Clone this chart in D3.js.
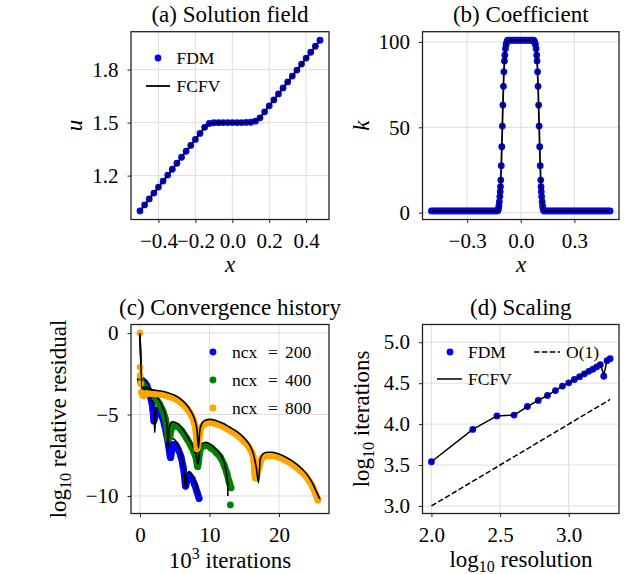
<!DOCTYPE html>
<html><head><meta charset="utf-8">
<script src="https://cdn.jsdelivr.net/npm/d3@7"></script>
<style>body{margin:0;background:#fff} svg text{font-family:'Liberation Serif','Times New Roman',serif;}</style>
</head><body>
<svg id="chart" width="624" height="574"></svg>
<script>
// ---------------- DATA ----------------
// (a) Solution field
const solX = [-0.5,-0.475,-0.45,-0.425,-0.4,-0.375,-0.35,-0.325,-0.3,-0.275,-0.25,-0.225,-0.2,-0.175,-0.15,-0.125,-0.1,-0.075,-0.05,-0.025,0,0.025,0.05,0.075,0.1,0.125,0.15,0.175,0.2,0.225,0.25,0.275,0.3,0.325,0.35,0.375,0.4,0.425,0.45,0.475];
const solFDM = [1.0,1.034,1.068,1.101,1.135,1.169,1.203,1.236,1.27,1.304,1.338,1.371,1.405,1.439,1.473,1.495,1.499,1.4995,1.5,1.5,1.5,1.5,1.5,1.501,1.502,1.508,1.527,1.561,1.595,1.628,1.662,1.696,1.73,1.763,1.797,1.831,1.865,1.898,1.932,1.966];
const solFCFV = [1.0,1.034,1.068,1.101,1.135,1.169,1.203,1.236,1.27,1.304,1.338,1.371,1.405,1.439,1.473,1.495,1.499,1.4995,1.5,1.5,1.5,1.5,1.5,1.501,1.502,1.508,1.527,1.561,1.595,1.628,1.662,1.696,1.73,1.763,1.797,1.831,1.865,1.898,1.932,1.966];

// (b) Coefficient
const coefX = [-0.5,-0.49,-0.48,-0.47,-0.46,-0.45,-0.44,-0.43,-0.42,-0.41,-0.4,-0.39,-0.38,-0.37,-0.36,-0.35,-0.34,-0.33,-0.32,-0.31,-0.3,-0.29,-0.28,-0.27,-0.26,-0.25,-0.24,-0.23,-0.22,-0.21,-0.2,-0.19,-0.18,-0.17,-0.16,-0.15,-0.14,-0.13,
 -0.127,-0.1245,-0.122,-0.1197,-0.117,-0.115,-0.1135,-0.1118,-0.109,-0.106,-0.103,-0.1,-0.097,-0.0943,-0.0914,-0.0893,-0.0858,-0.082,-0.079,-0.076,-0.073,
 -0.07,-0.06,-0.05,-0.04,-0.03,-0.02,-0.01,0,0.01,0.02,0.03,0.04,0.05,0.06,0.07,
 0.073,0.076,0.079,0.082,0.0858,0.0893,0.0914,0.0943,0.097,0.1,0.103,0.106,0.109,0.1118,0.1135,0.115,0.117,0.1197,0.122,0.1245,0.127,
 0.13,0.14,0.15,0.16,0.17,0.18,0.19,0.2,0.21,0.22,0.23,0.24,0.25,0.26,0.27,0.28,0.29,0.3,0.31,0.32,0.33,0.34,0.35,0.36,0.37,0.38,0.39,0.4,0.41,0.42,0.43,0.44,0.45,0.46,0.47,0.48,0.49,0.5];
const coefK = [1,1,1,1,1,1,1,1,1,1,1,1,1,1,1,1,1,1,1,1,1,1,1,1,1,1,1,1,1,1,1,1,1,1,1,1,1,1,
 1.5,2.5,4.0,6.4,9.4,12.3,15.2,19.1,27.5,38.6,50.7,63,74,82.5,88.9,92.2,96,98.5,99.4,100.5,100.9,
 101,101,101,101,101,101,101,101,101,101,101,101,101,101,101,
 100.9,100.5,99.4,98.5,96,92.2,88.9,82.5,74,63,50.7,38.6,27.5,19.1,15.2,12.3,9.4,6.4,4.0,2.5,1.5,
 1,1,1,1,1,1,1,1,1,1,1,1,1,1,1,1,1,1,1,1,1,1,1,1,1,1,1,1,1,1,1,1,1,1,1,1,1,1];

// (c) Convergence history (x in 10^3 iterations, y = log10 relative residual)
const conv200LineX = [0,0.3,0.8,1.2,1.6,1.9,2.05,2.12,2.25,2.5,2.8,3.1,3.4,3.7,3.9,4.0,4.2,4.6,5.1,5.6,6.0,6.3,6.6,6.8,7.1,7.5,7.9,8.2,8.45];
const conv200LineY = [0,-2.85,-3.0,-3.3,-3.85,-4.5,-5.1,-6.1,-5.0,-4.55,-4.5,-4.75,-5.2,-5.8,-6.4,-7.1,-6.4,-6.45,-6.6,-7.0,-7.6,-8.3,-9.55,-8.7,-8.5,-8.7,-9.1,-9.5,-10.0];
const conv200DotX = [0.05,0.3,0.7,1.0,1.3,1.6,1.85,2.0,2.15,2.35,2.6,2.9,3.2,3.5,3.8,4.1,4.4,4.7,5.1,5.5,5.9,6.2,6.4,6.55,6.8,7.1,7.5,7.9,8.2,8.5];
const conv200DotY = [-2.85,-2.9,-3.05,-3.25,-3.6,-4.1,-4.7,-5.4,-5.15,-4.85,-4.75,-4.85,-5.15,-5.6,-6.2,-6.9,-7.65,-6.85,-6.85,-7.15,-7.6,-8.2,-8.8,-9.4,-9.0,-8.75,-8.95,-9.35,-9.75,-10.15];

const conv400LineX = [0,0.3,1.0,1.6,2.2,2.8,3.3,3.7,3.9,4.02,4.2,4.6,5.2,6.0,6.7,7.3,7.8,8.1,8.35,8.6,8.9,9.5,10.2,11.0,11.6,12.1,12.4,12.6,12.65];
const conv400LineY = [0,-3.35,-3.3,-3.45,-3.75,-4.15,-4.6,-5.15,-5.7,-7.0,-5.8,-5.45,-5.5,-5.8,-6.25,-6.7,-7.15,-7.55,-8.05,-7.1,-6.8,-6.7,-6.85,-7.15,-7.45,-7.95,-8.5,-9.2,-10.0];
const conv400DotX = [0.1,0.3,0.8,1.2,1.6,2.2,2.8,3.3,3.7,3.9,4.05,4.28,4.5,4.8,5.3,6.0,6.7,7.3,7.8,8.1,8.3,8.6,8.9,9.5,10.2,11.0,11.6,12.1,12.5,12.8,13.1];
const conv400DotY = [-2.95,-3.1,-3.35,-3.5,-3.65,-3.95,-4.35,-4.8,-5.35,-5.9,-6.5,-6.4,-5.9,-5.7,-5.72,-6.0,-6.45,-6.9,-7.35,-7.75,-8.2,-7.3,-7.0,-6.9,-7.05,-7.35,-7.65,-8.1,-8.6,-9.1,-9.5];
const conv400ExtraX = [13.0];
const conv400ExtraY = [-10.55];

const conv800LineX = [0,0.3,1.0,2.0,3.0,4.0,5.0,6.0,6.8,7.4,7.9,8.2,8.42,8.6,8.9,9.4,10.0,11.0,12.0,13.0,14.0,15.0,15.8,16.3,16.75,17.05,17.3,17.7,18.3,19.0,20.0,21.0,22.0,23.0,24.0,24.8,25.4,25.9];
const conv800LineY = [0,-3.42,-3.45,-3.5,-3.56,-3.66,-3.82,-4.1,-4.45,-4.85,-5.35,-5.95,-7.05,-6.0,-5.55,-5.35,-5.3,-5.38,-5.55,-5.8,-6.07,-6.45,-6.9,-7.4,-8.3,-9.2,-7.75,-7.42,-7.32,-7.32,-7.42,-7.62,-7.88,-8.22,-8.66,-9.2,-9.75,-10.2];
const conv800DotX = [0.2,0.5,1.0,2.0,3.0,4.0,5.0,6.0,6.8,7.4,7.8,8.1,8.2,8.55,8.8,9.4,10.0,11.0,12.0,13.0,14.0,15.0,15.8,16.3,16.6,17.2,17.5,18.0,19.0,20.0,21.0,22.0,23.0,24.0,24.8,25.3,25.6];
const conv800DotY = [-3.63,-3.85,-3.72,-3.72,-3.77,-3.87,-4.02,-4.3,-4.65,-5.05,-5.5,-6.2,-7.1,-6.3,-5.8,-5.55,-5.5,-5.58,-5.75,-6.0,-6.27,-6.65,-7.1,-7.6,-8.9,-8.1,-7.7,-7.55,-7.52,-7.62,-7.82,-8.08,-8.42,-8.86,-9.4,-9.9,-10.25];
const conv800ExtraX = [0,0,0.03,0.08];
const conv800ExtraY = [0,-2.1,-2.6,-3.1];

const convLabels = ["200","400","800"];
const convColors = ["#0000ff","#008000","#ffa500"];

// (d) Scaling
const resLog = [2.0,2.301,2.477,2.602,2.699,2.778,2.845,2.903,2.954,3.0,3.041,3.079,3.114,3.146,3.176,3.204,3.23,3.255,3.279,3.301];
const itFDM  = [3.54,3.935,4.10,4.11,4.215,4.29,4.35,4.41,4.465,4.505,4.545,4.58,4.615,4.645,4.67,4.70,4.725,4.585,4.775,4.80];
const itFCFV = [3.54,3.935,4.10,4.11,4.215,4.29,4.35,4.41,4.465,4.505,4.545,4.585,4.62,4.65,4.68,4.71,4.74,4.60,4.775,4.80];
const refX = [2.0,3.301];
const refY = [3.0,4.301];

// ticks
const aXTicks=[-0.4,-0.2,0,0.2,0.4], aYTicks=[1.2,1.5,1.8];
const bXTicks=[-0.3,0,0.3], bYTicks=[0,50,100];
const cXTicks=[0,10,20], cYTicks=[-10,-5,0];
const dXTicks=[2.0,2.5,3.0], dYTicks=[3.0,3.5,4.0,4.5,5.0];

// ---------------- DRAWING ----------------
const FONT = "'Liberation Serif','Times New Roman',serif";
const GRID = "#dedede", INK = "#222";
const R = 3.4;
const svg = d3.select("#chart").attr("font-family", FONT);
const defs = svg.append("defs");

function pad(vals){ const e=d3.extent(vals); const p=(e[1]-e[0])*0.05; return [e[0]-p,e[1]+p]; }
const zip = (xs,ys)=>xs.map((v,i)=>[v,ys[i]]);

function panel(o){
  const x = d3.scaleLinear().domain(o.xDom).range([o.x0,o.x1]);
  const y = d3.scaleLinear().domain(o.yDom).range([o.y1,o.y0]);
  const g = svg.append("g");
  g.selectAll(null).data(o.xTicks).join("line")
    .attr("x1",d=>x(d)).attr("x2",d=>x(d)).attr("y1",o.y0).attr("y2",o.y1)
    .attr("stroke",GRID).attr("stroke-width",1);
  g.selectAll(null).data(o.yTicks).join("line")
    .attr("y1",d=>y(d)).attr("y2",d=>y(d)).attr("x1",o.x0).attr("x2",o.x1)
    .attr("stroke",GRID).attr("stroke-width",1);
  const ax = g.append("g").attr("transform",`translate(0,${o.y1})`)
    .call(d3.axisBottom(x).tickValues(o.xTicks).tickFormat(o.xFmt).tickSize(3.5).tickPadding(10));
  const ay = g.append("g").attr("transform",`translate(${o.x0},0)`)
    .call(d3.axisLeft(y).tickValues(o.yTicks).tickFormat(o.yFmt).tickSize(3.5).tickPadding(9));
  [ax,ay].forEach(a=>{
    a.select(".domain").remove();
    a.attr("color",INK).attr("font-family",FONT);
    a.selectAll("line").attr("stroke-width",1);
    a.selectAll("text").attr("font-size",21).style("font-family",FONT).attr("fill","#000");
  });
  const cid = "clip_"+o.name;
  defs.append("clipPath").attr("id",cid).append("rect")
    .attr("x",o.x0).attr("y",o.y0).attr("width",o.x1-o.x0).attr("height",o.y1-o.y0);
  const data = svg.append("g").attr("clip-path",`url(#${cid})`);
  o.draw(data,x,y);
  svg.append("rect").attr("x",o.x0).attr("y",o.y0).attr("width",o.x1-o.x0).attr("height",o.y1-o.y0)
    .attr("fill","none").attr("stroke",INK).attr("stroke-width",1.3);
  svg.append("text").attr("x",(o.x0+o.x1)/2).attr("y",o.y0-9.5).attr("text-anchor","middle")
    .attr("font-size",23).text(o.title);
  return {x,y};
}

function dots(g,x,y,xs,ys,color){
  g.append("g").selectAll("circle").data(zip(xs,ys)).join("circle")
    .attr("cx",d=>x(d[0])).attr("cy",d=>y(d[1])).attr("r",R).attr("fill",color);
}
function line(g,x,y,xs,ys,opts){
  const gen = d3.line().x(d=>x(d[0])).y(d=>y(d[1])).curve(opts.curve||d3.curveLinear);
  g.append("path").attr("d",gen(zip(xs,ys))).attr("fill","none")
    .attr("stroke",opts.color||"#000").attr("stroke-width",opts.width||1.5)
    .attr("stroke-linejoin","round").attr("stroke-linecap",opts.cap||"butt")
    .attr("stroke-dasharray",opts.dash||null);
}

const f1 = d3.format(".1f"), f0 = d3.format("d");

// (a)
panel({name:"a", x0:131, x1:329, y0:31.7, y1:219.5,
  xDom:pad(solX), yDom:pad(solFDM.concat(solFCFV)),
  xTicks:aXTicks, yTicks:aYTicks, xFmt:f1, yFmt:f1,
  title:"(a) Solution field",
  draw:(g,x,y)=>{
    dots(g,x,y,solX,solFDM,"#0000ff");
    line(g,x,y,solX,solFCFV,{width:1.8});
  }});

// (b)
panel({name:"b", x0:422.5, x1:619, y0:31.7, y1:219.5,
  xDom:pad(coefX), yDom:pad(coefK),
  xTicks:bXTicks, yTicks:bYTicks, xFmt:f1, yFmt:f0,
  title:"(b) Coefficient",
  draw:(g,x,y)=>{
    dots(g,x,y,coefX,coefK,"#0000ff");
    line(g,x,y,coefX,coefK,{width:1.8});
  }});

// (c)
const convSeries = [
  {dx:conv200DotX, dy:conv200DotY, lx:conv200LineX, ly:conv200LineY, ex:[], ey:[]},
  {dx:conv400DotX, dy:conv400DotY, lx:conv400LineX, ly:conv400LineY, ex:conv400ExtraX, ey:conv400ExtraY},
  {dx:conv800DotX, dy:conv800DotY, lx:conv800LineX, ly:conv800LineY, ex:conv800ExtraX, ey:conv800ExtraY}
];
const allCX = [], allCY = [];
convSeries.forEach(s=>{ allCX.push(...s.dx,...s.lx,...s.ex); allCY.push(...s.dy,...s.ly,...s.ey); });
panel({name:"c", x0:131, x1:329, y0:324.5, y1:513.5,
  xDom:pad(allCX), yDom:pad(allCY),
  xTicks:cXTicks, yTicks:cYTicks, xFmt:f0, yFmt:f0,
  title:"(c) Convergence history",
  draw:(g,x,y)=>{
    convSeries.forEach((s,i)=>{
      const c = convColors[i];
      line(g,x,y,s.dx,s.dy,{color:c,width:2*R,cap:"round",curve:d3.curveMonotoneX});
      dots(g,x,y,s.dx,s.dy,c);
      dots(g,x,y,s.ex,s.ey,c);
      line(g,x,y,s.lx,s.ly,{width:1.6,curve:d3.curveMonotoneX});
    });
  }});

// (d)
panel({name:"d", x0:422.5, x1:619, y0:324.5, y1:513.5,
  xDom:pad(resLog), yDom:[2.908,5.217],
  xTicks:dXTicks, yTicks:dYTicks, xFmt:f1, yFmt:f1,
  title:"(d) Scaling",
  draw:(g,x,y)=>{
    dots(g,x,y,resLog,itFDM,"#0000ff");
    line(g,x,y,resLog,itFCFV,{width:1.5});
    line(g,x,y,refX,refY,{width:1.5,dash:"5.5,2.4"});
  }});

// ---------------- AXIS LABELS ----------------
function label(x,y,rot,parts){
  const t = svg.append("text").attr("text-anchor","middle").attr("font-size",23)
    .attr("transform",`translate(${x},${y}) rotate(${rot})`);
  parts.forEach(p=>{
    const ts = t.append("tspan").text(p.t);
    if(p.it) ts.attr("font-style","italic");
    if(p.fs) ts.attr("font-size",p.fs);
    if(p.dy) ts.attr("dy",p.dy);
  });
  return t;
}
label(230,272,0,[{t:"x",it:true}]);
label(82,125.6,-90,[{t:"u",it:true}]);
label(521,272,0,[{t:"x",it:true}]);
label(368.5,125.6,-90,[{t:"k",it:true}]);
label(230,568,0,[{t:"10"},{t:"3",fs:16,dy:-9},{t:" iterations",dy:9}]);
label(66,419,-90,[{t:"log"},{t:"10",fs:16,dy:5},{t:" relative residual",dy:-5}]);
label(521,567,0,[{t:"log"},{t:"10",fs:16,dy:5},{t:" resolution",dy:-5}]);
label(369,419,-90,[{t:"log"},{t:"10",fs:16,dy:5},{t:" iterations",dy:-5}]);

// ---------------- LEGENDS ----------------
const LFS = 17.5;
function ltext(x,y,t){ return svg.append("text").attr("x",x).attr("y",y).attr("font-size",LFS).text(t); }
// (a)
svg.append("circle").attr("cx",158).attr("cy",58).attr("r",R).attr("fill","#0000ff");
ltext(176.5,64,"FDM");
svg.append("line").attr("x1",146).attr("x2",170).attr("y1",86).attr("y2",86).attr("stroke","#000").attr("stroke-width",1.8);
ltext(176.5,92,"FCFV");
// (c)
convLabels.forEach((lab,i)=>{
  const cy = 352 + i*28;
  svg.append("circle").attr("cx",213).attr("cy",cy).attr("r",R).attr("fill",convColors[i]);
  const t = svg.append("text").attr("y",cy+6).attr("font-size",LFS);
  t.append("tspan").attr("x",232).text("ncx");
  t.append("tspan").attr("x",268).text("=");
  t.append("tspan").attr("x",285).text(lab);
});
// (d)
svg.append("circle").attr("cx",450).attr("cy",352).attr("r",R).attr("fill","#0000ff");
ltext(468,358,"FDM");
svg.append("line").attr("x1",534).attr("x2",560).attr("y1",352).attr("y2",352).attr("stroke","#000").attr("stroke-width",1.5).attr("stroke-dasharray","5.5,2.4");
ltext(566,358,"O(1)");
svg.append("line").attr("x1",437).attr("x2",462).attr("y1",379).attr("y2",379).attr("stroke","#000").attr("stroke-width",1.5);
ltext(468,385,"FCFV");
</script>
</body></html>
